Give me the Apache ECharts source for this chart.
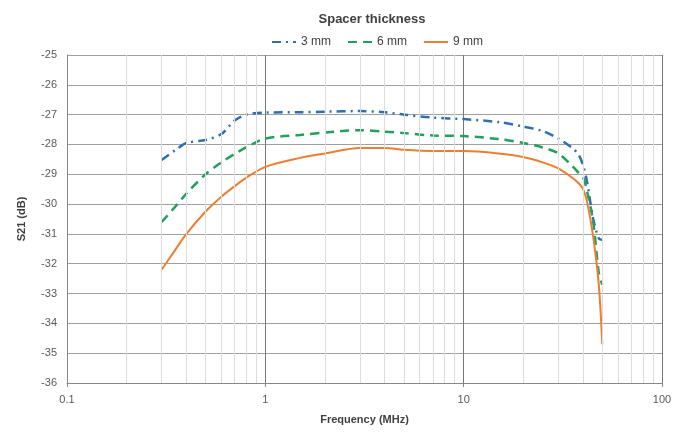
<!DOCTYPE html>
<html><head><meta charset="utf-8">
<script src="https://cdn.jsdelivr.net/npm/echarts@6/dist/echarts.min.js"></script>
<style>html,body{margin:0;padding:0;background:#fff}#c{width:686px;height:432px}</style>
</head><body><div id="c"></div>
<script>
const freq = [0.3,0.35,0.4,0.5,0.6,0.7,0.8,1,1.5,2,3,4,5,7,10,15,20,25,30,35,38,40,42,45,48,50];
const mm3 = [-28.52,-28.2,-27.95,-27.85,-27.65,-27.2,-27.0,-26.93,-26.92,-26.9,-26.88,-26.92,-27.0,-27.1,-27.15,-27.25,-27.4,-27.55,-27.8,-28.1,-28.35,-28.7,-29.3,-30.5,-31.15,-31.2];
const mm6 = [-30.6,-30.1,-29.65,-29.0,-28.6,-28.32,-28.1,-27.8,-27.68,-27.6,-27.52,-27.57,-27.62,-27.7,-27.72,-27.82,-27.95,-28.1,-28.3,-28.7,-28.95,-29.1,-29.6,-30.6,-32.3,-32.7];
const mm9 = [-32.2,-31.55,-31.0,-30.25,-29.75,-29.4,-29.12,-28.75,-28.45,-28.3,-28.12,-28.12,-28.18,-28.22,-28.22,-28.3,-28.42,-28.6,-28.8,-29.1,-29.3,-29.5,-29.95,-31.1,-32.7,-34.7];
const seriesNames = ['3 mm','6 mm','9 mm'];
const minorX = [0.2,0.3,0.4,0.5,0.6,0.7,0.8,0.9,2,3,4,5,6,7,8,9,20,30,40,50,60,70,80,90];

const pairs = ys => freq.map((f,i)=>[f,ys[i]]);
const font = 'Liberation Sans';
const chart = echarts.init(document.getElementById('c'));
chart.setOption({
  animation:false,
  title:{text:'Spacer thickness',left:367,textAlign:'center',top:8,
    textStyle:{fontFamily:font,fontSize:13,fontWeight:'bold',color:'#404040'}},
  legend:{data:seriesNames,top:31,left:266,itemWidth:24,itemHeight:8,itemGap:16,
    itemStyle:{opacity:0},
    textStyle:{fontFamily:font,fontSize:12,color:'#404040'}},
  grid:{left:67,right:24,top:55,bottom:49,containLabel:false},
  xAxis:{type:'log',logBase:10,min:0.1,max:100,
    name:'Frequency (MHz)',nameLocation:'middle',nameGap:31,
    nameTextStyle:{fontFamily:font,fontSize:11,fontWeight:'bold',color:'#404040'},
    axisLine:{show:true,lineStyle:{color:'#888'}},
    axisTick:{show:true,length:4,lineStyle:{color:'#888'}},
    axisLabel:{fontFamily:font,fontSize:11,color:'#595959',margin:11,
      formatter:v=>String(v)},
    splitLine:{show:true,lineStyle:{color:'#777',width:1}}},
  yAxis:{type:'value',min:-36,max:-25,interval:1,
    name:'S21 (dB)',nameLocation:'middle',nameGap:40,nameRotate:90,
    nameTextStyle:{fontFamily:font,fontSize:11,fontWeight:'bold',color:'#404040'},
    axisLine:{show:true,lineStyle:{color:'#888'}},
    axisTick:{show:false},
    axisLabel:{fontFamily:font,fontSize:11,color:'#595959',margin:10},
    splitLine:{show:true,lineStyle:{color:'#a0a0a0',width:1}}},
  series:[
    {type:'line',name:'_grid',data:[],silent:true,z:1,
      markLine:{silent:true,symbol:['none','none'],label:{show:false},animation:false,
        lineStyle:{color:'#dcdcdc',width:1,type:'solid'},
        data:minorX.map(v=>({xAxis:v}))}},
    {type:'line',name:seriesNames[0],data:pairs(mm3),showSymbol:false,symbol:'none',smooth:0.3,z:3,
      color:'#2e6fad',lineStyle:{color:'#2e6fad',width:2.5,type:[9,5,2,5]}},
    {type:'line',name:seriesNames[1],data:pairs(mm6),showSymbol:false,symbol:'none',smooth:0.3,z:3,
      color:'#22a05c',lineStyle:{color:'#22a05c',width:2.5,type:[9,6]}},
    {type:'line',name:seriesNames[2],data:pairs(mm9),showSymbol:false,symbol:'none',smooth:0.3,z:3,
      color:'#ed7d31',lineStyle:{color:'#ed7d31',width:2}}
  ]
});
</script></body></html>
